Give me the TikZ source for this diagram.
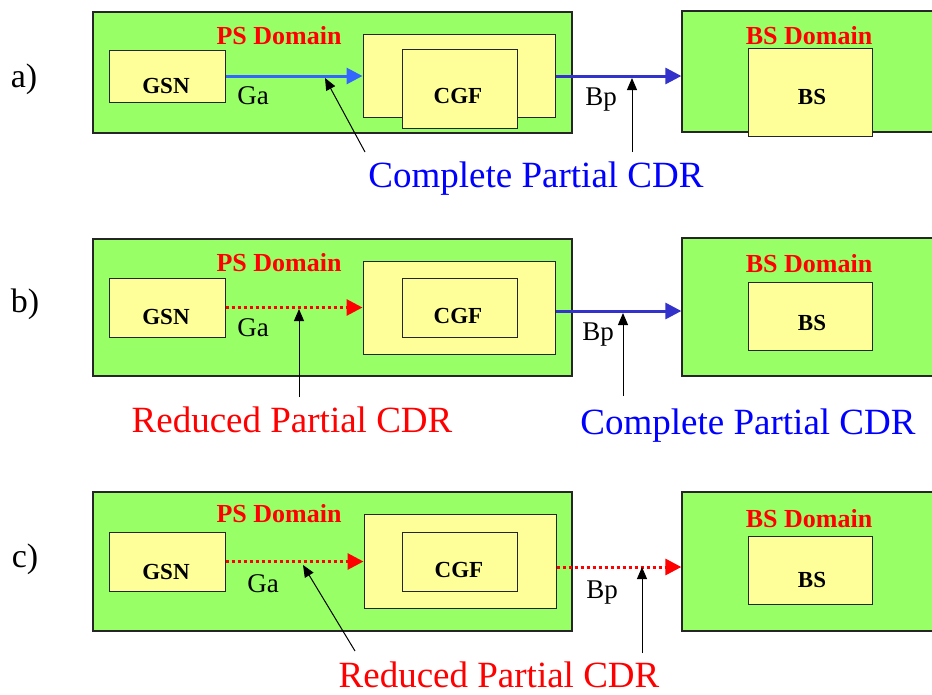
\documentclass[tikz,border=0pt]{standalone}
\usepackage{fontspec}
\setmainfont{Liberation Serif}
\usetikzlibrary{arrows.meta,calc}
\definecolor{dgreen}{RGB}{153,255,102}
\definecolor{byellow}{RGB}{255,255,153}
\definecolor{ablue}{RGB}{51,102,255}
\definecolor{bblue}{RGB}{51,51,204}
\definecolor{tblue}{RGB}{0,0,255}
\begin{document}
\begin{tikzpicture}[x=1pt,y=-1pt,
  domainbox/.style={draw=black!85, fill=dgreen, line width=1.3pt, inner sep=0pt, rectangle},
  unitbox/.style={draw=black!85, fill=byellow, line width=1pt, inner sep=0pt, rectangle},
  domlabel/.style={text=red, font=\fontsize{26}{26}\selectfont\bfseries, inner sep=0pt, anchor=base},
  unitlabel/.style={font=\fontsize{23}{23}\selectfont\bfseries, inner sep=0pt, anchor=base},
  iflabel/.style={font=\fontsize{27}{27}\selectfont, inner sep=0pt, anchor=base},
  cdrlabel/.style={font=\fontsize{37}{37}\selectfont, inner sep=0pt, anchor=base},
  rowlabel/.style={font=\fontsize{34}{34}\selectfont, inner sep=0pt, anchor=base},
  complete/.style={line width=3pt, -{Triangle[length=16pt,width=16pt]}},
  reduced/.style={red, line width=3pt, dash pattern=on 3pt off 3pt, -{Triangle[length=16pt,width=16pt]}},
  pointer/.style={black, line width=1pt, -{Triangle[length=12pt,width=10pt]}},
]
\clip (0,0) rectangle (932,694);
\fill[white] (0,0) rectangle (932,694);

% ---------------- row a ----------------
\node[rowlabel] (rla) at (24,87) {a)};
\node[domainbox, minimum width=479pt, minimum height=121pt] (psa) at (332.5,72.5) {};
\node[domainbox, minimum width=263pt, minimum height=121pt] (bsda) at (813.5,71.5) {};
\node[unitbox, minimum width=116pt, minimum height=52pt] (gsna) at (167,76) {};
\node[unitbox, minimum width=192pt, minimum height=83pt] (cgfoa) at (459,75.5) {};
\node[unitbox, minimum width=115pt, minimum height=79pt] (cgfia) at (459.5,88.5) {};
\node[unitbox, minimum width=124pt, minimum height=88pt] (bsa) at (810,92) {};
\node[domlabel] (psla) at (279,44) {PS Domain};
\node[domlabel] (bsla) at (809,44) {BS Domain};
\node[unitlabel] (gsnla) at (166,93) {GSN};
\node[unitlabel] (cgfla) at (458,103) {CGF};
\node[unitlabel] (bsxa) at (812,104) {BS};
\node[iflabel] (gaa) at (253,104) {Ga};
\node[iflabel] (bpa) at (601,105) {Bp};
\draw[complete, ablue] (gsna.east) -- (gsna.east -| cgfoa.west);
\draw[complete, bblue] (cgfoa.east |- gsna.east) -- (gsna.east -| bsda.west);
\node[cdrlabel, text=tblue] (cdra) at (536,187) {Complete Partial CDR};
\coordinate (pa1s) at (365,152);
\coordinate (pa1t) at (325,78);
\coordinate (pa2s) at (632,152);
\coordinate (pa2t) at (632,78);
\draw[pointer] (pa1s) -- (pa1t);
\draw[pointer] (pa2s) -- (pa2t);

% ---------------- row b ----------------
\node[rowlabel] (rlb) at (25,312) {b)};
\node[domainbox, minimum width=479pt, minimum height=137pt] (psb) at (332.5,307.5) {};
\node[domainbox, minimum width=263pt, minimum height=138pt] (bsdb) at (813.5,307) {};
\node[unitbox, minimum width=116pt, minimum height=59pt] (gsnb) at (167,307.5) {};
\node[unitbox, minimum width=192pt, minimum height=93pt] (cgfob) at (459,307.5) {};
\node[unitbox, minimum width=115pt, minimum height=59pt] (cgfib) at (459.5,307.5) {};
\node[unitbox, minimum width=124pt, minimum height=68pt] (bsb) at (810,316) {};
\node[domlabel] (pslb) at (279,271) {PS Domain};
\node[domlabel] (bslb) at (809,272) {BS Domain};
\node[unitlabel] (gsnlb) at (166,324) {GSN};
\node[unitlabel] (cgflb) at (458,323) {CGF};
\node[unitlabel] (bsxb) at (812,330) {BS};
\node[iflabel] (gab) at (253,336) {Ga};
\node[iflabel] (bpb) at (598,340) {Bp};
\draw[reduced] (gsnb.east) -- (gsnb.east -| cgfob.west);
\coordinate (bpbs) at ($(cgfob.east)+(0,3.5)$);
\draw[complete, bblue] (bpbs) -- (bpbs -| bsdb.west);
\node[cdrlabel, text=red] (cdrb1) at (292,432) {Reduced Partial CDR};
\node[cdrlabel, text=tblue] (cdrb2) at (748,434) {Complete Partial CDR};
\coordinate (pb1s) at (299,397);
\coordinate (pb1t) at (299,309);
\coordinate (pb2s) at (623,396);
\coordinate (pb2t) at (623,313);
\draw[pointer] (pb1s) -- (pb1t);
\draw[pointer] (pb2s) -- (pb2t);

% ---------------- row c ----------------
\node[rowlabel] (rlc) at (25,567) {c)};
\node[domainbox, minimum width=479pt, minimum height=139pt] (psc) at (332.5,561.5) {};
\node[domainbox, minimum width=263pt, minimum height=139pt] (bsdc) at (813.5,561.5) {};
\node[unitbox, minimum width=116pt, minimum height=59pt] (gsnc) at (167,561.5) {};
\node[unitbox, minimum width=192pt, minimum height=94pt] (cgfoc) at (460,561) {};
\node[unitbox, minimum width=115pt, minimum height=59pt] (cgfic) at (459.5,561.5) {};
\node[unitbox, minimum width=124pt, minimum height=68pt] (bsc) at (810,570) {};
\node[domlabel] (pslc) at (279,522) {PS Domain};
\node[domlabel] (bslc) at (809,527) {BS Domain};
\node[unitlabel] (gsnlc) at (166,579) {GSN};
\node[unitlabel] (cgflc) at (459,577) {CGF};
\node[unitlabel] (bsxc) at (812,587) {BS};
\node[iflabel] (gac) at (263,592) {Ga};
\node[iflabel] (bpc) at (602,598) {Bp};
\draw[reduced] (gsnc.east) -- (gsnc.east -| cgfoc.west);
\coordinate (bpcs) at ($(cgfoc.east)+(0,6)$);
\draw[reduced] (bpcs) -- (bpcs -| bsdc.west);
\node[cdrlabel, text=red] (cdrc) at (499,687) {Reduced Partial CDR};
\coordinate (pc1s) at (355,651);
\coordinate (pc1t) at (303,565);
\coordinate (pc2s) at (642,653);
\coordinate (pc2t) at (642,567);
\draw[pointer] (pc1s) -- (pc1t);
\draw[pointer] (pc2s) -- (pc2t);
\end{tikzpicture}
\end{document}
